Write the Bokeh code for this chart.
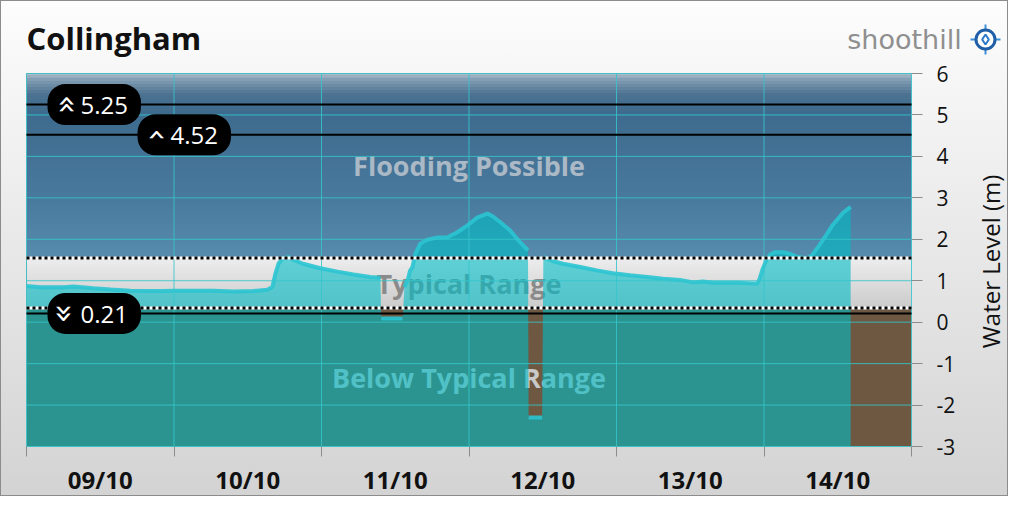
import math
from bokeh.plotting import figure
from bokeh.models import FixedTicker, Label, Range1d
from bokeh.core.properties import value
from bokeh.embed import file_html
from bokeh.resources import INLINE

STATION = "Collingham"
DAY_LABELS = ["09/10", "10/10", "11/10", "12/10", "13/10", "14/10"]
Y_TICKS = [-3, -2, -1, 0, 1, 2, 3, 4, 5, 6]
Y_MIN, Y_MAX = -3, 6

TYPICAL_HIGH = 1.55
TYPICAL_LOW = 0.34
THRESHOLDS = [5.25, 4.52, 0.21]
THRESHOLD_KIND = ["up2", "up1", "down2"]
BAND_NAMES = ["Flooding Possible", "Typical Range", "Below Typical Range"]

# readings: hours since 09/10 00:00 and level (m)
SEG_A_H = [0.0, 2.3, 6.0, 7.6, 10.9, 13.7, 16.9, 22.3, 23.9, 30.4, 33.7, 36.9, 39.2,
           40.0, 40.5, 41.0, 41.6, 42.6, 43.4, 45.0, 47.8, 50.6, 53.2, 55.9, 57.6]
SEG_A_M = [0.87, 0.84, 0.84, 0.86, 0.82, 0.79, 0.76, 0.75, 0.76, 0.76, 0.74, 0.75, 0.78,
           0.85, 1.17, 1.41, 1.53, 1.57, 1.51, 1.41, 1.30, 1.22, 1.15, 1.09, 1.07]
GAP1_H = [57.7, 61.2]
GAP1_M = [0.09, 0.09]
SEG_B_H = [61.5, 62.1, 62.4, 62.8, 63.3, 64.1, 65.2, 66.8, 68.5, 70.1, 71.7, 73.3,
           75.0, 75.9, 77.1, 78.7, 80.3, 81.6]
SEG_B_M = [0.85, 1.05, 1.24, 1.33, 1.66, 1.90, 1.99, 2.04, 2.05, 2.17, 2.33, 2.52,
           2.62, 2.55, 2.41, 2.21, 1.93, 1.73]
GAP2_H = [81.7, 83.9]
GAP2_M = [-2.30, -2.30]
SEG_C_H = [84.1, 85.7, 87.3, 90.1, 92.8, 95.4, 98.2, 101.0, 103.6, 106.3, 108.5, 110.1,
           111.7, 115.6, 118.9, 119.3, 119.8, 120.5, 121.0, 121.8, 123.1, 124.2, 125.5,
           127.0, 127.8, 128.8, 129.9, 131.1, 131.9, 132.8, 134.1]
SEG_C_M = [1.57, 1.47, 1.41, 1.33, 1.25, 1.18, 1.13, 1.09, 1.05, 1.02, 0.96, 0.98,
           0.95, 0.95, 0.93, 1.05, 1.29, 1.53, 1.63, 1.69, 1.69, 1.65, 1.57,
           1.54, 1.61, 1.81, 2.05, 2.33, 2.47, 2.63, 2.78]

SEGMENTS = [(SEG_A_H, SEG_A_M), (GAP1_H, GAP1_M), (SEG_B_H, SEG_B_M),
            (GAP2_H, GAP2_M), (SEG_C_H, SEG_C_M)]

X_END = 24 * len(DAY_LABELS)
FONT = "Open Sans"

# ---- pixel layout (style) ----
FIG_W, FIG_H = 1008, 496
PLOT_L, PLOT_R, PLOT_T, PLOT_B = 26, 911, 73, 446
px_h = (PLOT_R - PLOT_L) / X_END
px_m = (PLOT_B - PLOT_T) / (Y_MAX - Y_MIN)


def hx(px):   # pixel column -> hours
    return (px - PLOT_L) / px_h


def my(py):   # pixel row -> metres
    return Y_MAX - (py - PLOT_T) / px_m


x_range = Range1d(hx(0), hx(FIG_W))
y_range = Range1d(my(FIG_H), my(0))

p = figure(width=FIG_W, height=FIG_H, x_range=x_range, y_range=y_range,
           y_axis_location="right", output_backend="svg", toolbar_location=None,
           min_border_left=0, min_border_right=0, min_border_top=0, min_border_bottom=0)
p.title.visible = False
p.border_fill_alpha = 0
p.background_fill_alpha = 0
p.outline_line_color = None
p.styles = {"background": "linear-gradient(#fdfdfd, #d3d3d3)",
            "outline": "1px solid #8c8c8c", "outline-offset": "-1px"}
p.xgrid.visible = False
p.ygrid.visible = False


def lerp_stops(stops, v):
    for (v0, c0), (v1, c1) in zip(stops[:-1], stops[1:]):
        if v0 >= v >= v1:
            t = (v0 - v) / (v0 - v1) if v0 != v1 else 0
            return "#%02x%02x%02x" % tuple(int(round(a + (b - a) * t)) for a, b in zip(c0, c1))
    return "#%02x%02x%02x" % stops[-1][1]


def gradient_band(top, bottom, stops, n):
    tops, bots, cols = [], [], []
    step = (top - bottom) / n
    for i in range(n):
        t = top - i * step
        b = t - step
        tops.append(min(top, t + 0.6 * step))
        bots.append(b)
        cols.append(lerp_stops(stops, (t + b) / 2))
    p.quad(left=0, right=X_END, top=tops, bottom=bots, fill_color=cols, line_color=None)


flood_stops = [(6.0, (186, 201, 212)), (5.8, (128, 156, 178)), (5.45, (76, 114, 145)),
               (5.0, (62, 107, 141)), (3.0, (72, 121, 157)), (1.55, (86, 139, 173))]
gradient_band(Y_MAX, TYPICAL_HIGH, flood_stops, 60)
typ_stops = [(TYPICAL_HIGH, (238, 238, 238)), (TYPICAL_LOW, (204, 204, 204))]
gradient_band(TYPICAL_HIGH, TYPICAL_LOW, typ_stops, 20)
p.quad(left=0, right=X_END, top=TYPICAL_LOW, bottom=Y_MIN, fill_color="#6f5841", line_color=None)

# band names (beneath the water fill)
band_y = [(Y_MAX + TYPICAL_HIGH) / 2, (TYPICAL_HIGH + TYPICAL_LOW) / 2, (TYPICAL_LOW + Y_MIN) / 2]
p.text(x=[X_END / 2] * 3, y=band_y, text=BAND_NAMES,
       text_color=["#aab9c5", "#8a8a8a", "#c9c9c9"],
       text_font=value(FONT), text_font_style="bold", text_font_size="27px",
       text_align="center", text_baseline="middle")

# water fill
all_h = [h for seg in SEGMENTS for h in seg[0]]
all_m = [m for seg in SEGMENTS for m in seg[1]]
p.varea(x=all_h, y1=[Y_MIN] * len(all_h), y2=all_m, fill_color="#00bcc4", fill_alpha=0.6)

for hs, ms in SEGMENTS:
    p.line(hs, ms, line_color="#2ac4d2", line_width=4, line_alpha=0.9)

# plot-area border and grid
day_bounds = list(range(0, X_END + 1, 24))
p.segment(x0=[0, 0], y0=[Y_MIN, Y_MAX], x1=[0, X_END], y1=[Y_MAX, Y_MAX],
          line_color="#9a9a9a", line_width=1)
p.segment(x0=day_bounds, y0=[Y_MIN] * len(day_bounds), x1=day_bounds, y1=[Y_MAX] * len(day_bounds),
          line_color="#35c5cc", line_alpha=0.85, line_width=1)
p.segment(x0=[0] * len(Y_TICKS), y0=Y_TICKS, x1=[X_END] * len(Y_TICKS), y1=Y_TICKS,
          line_color="#35c5cc", line_alpha=0.85, line_width=1)

# typical range dotted boundaries
for lvl in (TYPICAL_HIGH, TYPICAL_LOW):
    p.segment(x0=[0], y0=[lvl], x1=[X_END], y1=[lvl], line_color="white", line_width=3)
    p.segment(x0=[0], y0=[lvl], x1=[X_END], y1=[lvl], line_color="black", line_width=3,
              line_dash="3 3")

# thresholds
p.segment(x0=[0] * len(THRESHOLDS), y0=THRESHOLDS, x1=[X_END] * len(THRESHOLDS), y1=THRESHOLDS,
          line_color="black", line_width=2)

# axes
xa = p.xaxis[0]
centers = [12 + 24 * i for i in range(len(DAY_LABELS))]
xa.fixed_location = Y_MIN
xa.bounds = (0, X_END)
xa.ticker = FixedTicker(ticks=centers, minor_ticks=day_bounds)
xa.major_label_overrides = {float(c): lab for c, lab in zip(centers, DAY_LABELS)}
xa.major_tick_out = 0
xa.major_tick_in = 0
xa.minor_tick_out = 10
xa.minor_tick_in = 0
xa.minor_tick_line_color = "#8c8c8c"
xa.axis_line_color = None
xa.major_label_text_font = FONT
xa.major_label_text_font_style = "bold"
xa.major_label_text_font_size = "24px"
xa.major_label_text_color = "#111111"
xa.major_label_standoff = 6

ya = p.yaxis[0]
ya.fixed_location = X_END
ya.bounds = (Y_MIN, Y_MAX)
ya.ticker = FixedTicker(ticks=Y_TICKS)
ya.major_label_overrides = {float(t): str(t) for t in Y_TICKS}
ya.major_tick_out = 11
ya.major_tick_in = 0
ya.minor_tick_out = 0
ya.minor_tick_in = 0
ya.major_tick_line_color = "#8c8c8c"
ya.axis_line_color = None
ya.major_label_text_font = FONT
ya.major_label_text_font_size = "21px"
ya.major_label_text_color = "#111111"
ya.major_label_standoff = 14

# threshold badges
badge_left_px = {5.25: 47, 4.52: 137, 0.21: 47}
for lvl, kind in zip(THRESHOLDS, THRESHOLD_KIND):
    lx = badge_left_px[lvl]
    p.add_layout(Label(x=hx(lx), y=lvl, text="\u2002\u2002" + f"{lvl:.2f}", text_color="white",
                       text_font=FONT, text_font_size="24px",
                       text_align="left", text_baseline="middle",
                       background_fill_color="black", border_radius=18,
                       padding=dict(left=9, right=13, top=4, bottom=4)))
    glyph = "\u00bb" if kind.endswith("2") else "\u203a"
    ang = math.pi / 2 if kind.startswith("up") else -math.pi / 2
    p.add_layout(Label(x=hx(lx + 17), y=lvl, text=glyph, text_color="white",
                       text_font="DejaVu Sans", text_font_size="32px",
                       angle=ang, text_align="center", text_baseline="middle"))

# title, logo, axis title
p.add_layout(Label(x=0, y=my(37), text=STATION, text_font=FONT, text_font_size="31px",
                   text_font_style="bold", text_color="#111111",
                   text_align="left", text_baseline="middle"))
p.add_layout(Label(x=hx(904), y=my(39), text="shoothill", text_font="DejaVu Sans",
                   text_font_size="27px", text_color="#8f8f8f",
                   text_align="center", text_baseline="middle"))
icon_x, icon_y = hx(985), my(39)
p.scatter(x=[icon_x], y=[icon_y], marker="cross", size=30, line_color="#3d8fd6", line_width=2)
p.scatter(x=[icon_x], y=[icon_y], marker="circle", size=19, fill_color="white",
          line_color="#1f5fa8", line_width=3)
p.scatter(x=[icon_x], y=[icon_y], marker="diamond", size=10, fill_color=None,
          line_color="#2a78c8", line_width=2)
p.add_layout(Label(x=hx(990), y=my(261), text="Water Level (m)", text_font=FONT,
                   text_font_size="24px", text_color="#111111", angle=math.pi / 2,
                   text_align="center", text_baseline="middle"))

open("out.html", "w").write(file_html(p, INLINE))
